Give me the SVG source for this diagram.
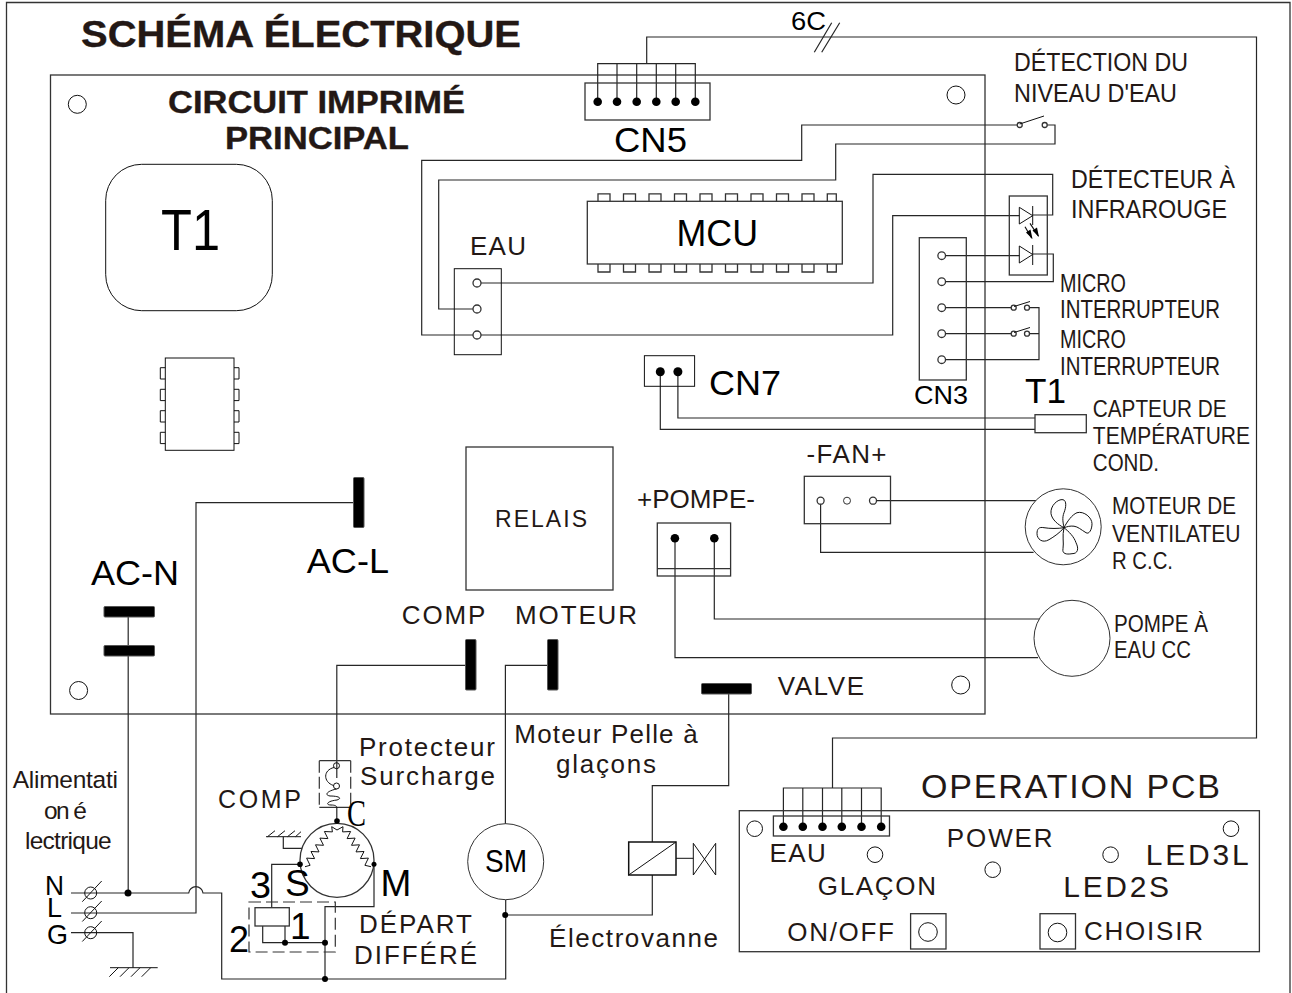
<svg xmlns="http://www.w3.org/2000/svg" width="1292" height="993" viewBox="0 0 1292 993">
<defs>
<style>
.l{fill:none;stroke:#262626;stroke-width:1.2;stroke-linejoin:miter}
.f{fill:#fff;stroke:#333;stroke-width:1.3}
.n{fill:none;stroke:#333;stroke-width:1.3}
.e{fill:none;stroke:#111;stroke-width:1}
.w{fill:none;stroke:#111;stroke-width:1;stroke-linejoin:round}
.d{fill:#000;stroke:none}
.term{fill:#000;stroke:#555;stroke-width:1}
.dash{fill:none;stroke:#333;stroke-width:1.2;stroke-dasharray:12 5}
text{font-family:"Liberation Sans",Arial,sans-serif;fill:#231815;font-size:26px}
.b{font-weight:bold;stroke:#231815;stroke-width:.35}
.k{fill:#000}
</style>
</defs>
<rect width="1292" height="993" fill="#fff"/>
<path class="n" d="M6.500 993V2.500H1290V993"/>

<g id="title">
<text class="b" x="81" y="47" style="font-size:37px" textLength="440" lengthAdjust="spacingAndGlyphs">SCHÉMA ÉLECTRIQUE</text>
</g>

<g id="main-pcb">
<rect class="n" x="50.500" y="75" width="934.500" height="639"/>
<text class="b" x="168" y="112.500" style="font-size:31px" textLength="297" lengthAdjust="spacingAndGlyphs">CIRCUIT IMPRIMÉ</text>
<text class="b" x="225" y="149" style="font-size:31px" textLength="184" lengthAdjust="spacingAndGlyphs">PRINCIPAL</text>
<circle class="e" cx="77.300" cy="104.300" r="9"/>
<circle class="e" cx="956" cy="95" r="9"/>
<circle class="e" cx="78.600" cy="690.500" r="9"/>
<circle class="e" cx="960.700" cy="685" r="9"/>
</g>

<g id="transformer">
<rect class="e" x="105.700" y="164.300" width="166.600" height="146.400" rx="36" ry="36"/>
<text class="k" x="161" y="250" style="font-size:57px" textLength="59" lengthAdjust="spacingAndGlyphs">T1</text>
</g>

<g id="dip-chip">
<rect class="e" x="165.300" y="358" width="68.700" height="92.300"/>
<path class="e" d="M165.300 367.700h-5v11.300h5M165.300 389.300h-5v11.300h5M165.300 410.700h-5v11.300h5M165.300 432.300h-5v11.300h5M234 367.700h5v11.300h-5M234 389.300h5v11.300h-5M234 410.700h5v11.300h-5M234 432.300h5v11.300h-5"/>
</g>

<g id="mcu">
<rect class="n" x="587.300" y="201.300" width="255" height="62.700"/>
<path class="n" d="M598 201.300v-7.500h12v7.500M623.500 201.300v-7.500h12v7.500M649 201.300v-7.500h12v7.500M674.500 201.300v-7.500h12v7.500M700 201.300v-7.500h12v7.500M725.500 201.300v-7.500h12v7.500M751 201.300v-7.500h12v7.500M776.500 201.300v-7.500h12v7.500M802 201.300v-7.500h12v7.500M827.300 201.300v-7.500h9v7.500M598 264v8h12v-8M623.500 264v8h12v-8M649 264v8h12v-8M674.500 264v8h12v-8M700 264v8h12v-8M725.500 264v8h12v-8M751 264v8h12v-8M776.500 264v8h12v-8M802 264v8h12v-8M827.300 264v8h9v-8"/>
<text class="k" x="676.500" y="246" style="font-size:36px" textLength="81.500" lengthAdjust="spacingAndGlyphs">MCU</text>
</g>

<g id="relais">
<rect class="n" x="466" y="447" width="147" height="143"/>
<text x="495" y="526.500" style="font-size:23px" textLength="92" lengthAdjust="spacing">RELAIS</text>
</g>

<g id="connectors">
<path class="l" d="M646.700 63.700V37H1256.500V738H832.500V788"/>
<path class="l" d="M597.700 101.700V63.700H695.300V101.700M617 63.700V101.700M636.700 63.700V101.700M656.300 63.700V101.700M675.700 63.700V101.700"/>
<path class="l" d="M783.400 826.700V788H881.200V826.700M802.800 788V826.700M822.500 788V826.700M841.800 788V826.700M861.500 788V826.700"/>
<path class="l" d="M477 335H421.700V160.300H801.700V125H1019.700"/>
<path class="l" d="M477 309H438.700V180H835.700V144H1055V125H1044.700"/>
<path class="l" d="M477 283H873V174.300H1052.700V215H1032.700"/>
<path class="l" d="M477 335H892.700V215.700H1019.300"/>
<path class="l" d="M941.700 255.700H1019.300M1032.700 254H1053.300V281.700H941.700"/>
<path class="l" d="M941.700 307.700H1013.700M941.700 333.700H1013.700M941.700 359.700H1039V307.700H1027M1039 333.700H1027"/>
<path class="l" d="M660.300 371.700V429.300H1035M677.900 371.700V418H1035"/>
<path class="l" d="M873 500.700H1038M820.600 500.700V552.300H1033.600"/>
<path class="l" d="M714.300 538.300V619H1040M675 538.300V657.700H1038"/>
<path class="l" d="M128.200 612V893"/>
<path class="l" d="M71 893H188.700A7.200 7.200 0 0 1 203 893H221.700V979H505.700V899.700M505.700 915H652.300V875M652.300 842V785.700H728.700V690"/>
<path class="l" d="M71 913H196V502.700H353"/>
<path class="l" d="M547.500 665.300H505.400V824"/>
<path class="l" d="M465.400 665.300H336.800V778M336.800 807V821"/>
<path class="l" d="M71 932.700H133V967.700"/>
<path class="l" d="M300 864.300H271.700V907.700M374 864.300V906.700H325V979"/>
<path class="l" d="M262.700 926V942.700H325M285 926V942.700"/>
<path class="l" d="M283.300 836.700V848.300H302"/>
<path class="l" d="M814.300 52.300L831.700 22.700M821.700 52.300L839.700 22.700"/>
<circle class="d" cx="128" cy="893" r="3.500"/>
<circle class="d" cx="285" cy="942.700" r="3"/>
<circle class="d" cx="325" cy="942.700" r="3"/>
<circle class="d" cx="325" cy="979" r="3"/>
<circle class="d" cx="505.200" cy="915" r="3"/>
</g>

<g id="cn5">
<rect class="n" x="585" y="83" width="125" height="37"/>
<circle class="d" cx="597.700" cy="101.700" r="4.300"/><circle class="d" cx="617" cy="101.700" r="4.300"/><circle class="d" cx="636.700" cy="101.700" r="4.300"/><circle class="d" cx="656.300" cy="101.700" r="4.300"/><circle class="d" cx="675.700" cy="101.700" r="4.300"/><circle class="d" cx="695.300" cy="101.700" r="4.300"/>
<text class="k" x="614" y="152" style="font-size:35px" textLength="73" lengthAdjust="spacingAndGlyphs">CN5</text>
</g>
<g id="label-6c"><text class="k" x="791" y="30" textLength="35" lengthAdjust="spacingAndGlyphs">6C</text></g>

<g id="eau">
<rect class="e" x="454.300" y="268.700" width="47" height="86"/>
<circle class="f" cx="477" cy="283" r="4"/><circle class="f" cx="477" cy="309" r="4"/><circle class="f" cx="477" cy="335" r="4"/>
<text x="470" y="255" textLength="56" lengthAdjust="spacing">EAU</text>
</g>

<g id="water-level-switch">
<circle class="f" cx="1019.700" cy="125" r="2.500"/><circle class="f" cx="1044.700" cy="125" r="2.500"/>
<path class="e" d="M1019.700 124L1044 116"/>
<text x="1014" y="71" style="font-size:25px" textLength="174" lengthAdjust="spacingAndGlyphs">DÉTECTION DU</text>
<text x="1014" y="102" style="font-size:25px" textLength="163" lengthAdjust="spacingAndGlyphs">NIVEAU D'EAU</text>
</g>

<g id="ir-detector">
<rect class="n" x="1009.300" y="196" width="38" height="79"/>
<path class="e" d="M1019.300 207.300V224L1032.700 215.700ZM1032.700 206V225M1019.300 246V263L1032.700 254.500ZM1032.700 245V265"/>
<path d="M1025 226.700L1031.700 238.300M1030 223.300L1038.300 236" stroke="#111" stroke-width="1.200" fill="none"/>
<path class="d" d="M1032.500 239l-6.500-6.500 4.500-3ZM1039 237l-6.500-6.500 4.500-3Z"/>
<text x="1071" y="188.300" style="font-size:25px" textLength="164" lengthAdjust="spacingAndGlyphs">DÉTECTEUR À</text>
<text x="1071" y="218.300" style="font-size:25px" textLength="156" lengthAdjust="spacingAndGlyphs">INFRAROUGE</text>
</g>

<g id="cn3">
<rect class="n" x="919.300" y="237.700" width="47" height="142.300"/>
<circle class="f" cx="941.700" cy="255.700" r="3.800"/><circle class="f" cx="941.700" cy="281.700" r="3.800"/><circle class="f" cx="941.700" cy="307.700" r="3.800"/><circle class="f" cx="941.700" cy="333.700" r="3.800"/><circle class="f" cx="941.700" cy="359.700" r="3.800"/>
<text class="k" x="914" y="404" textLength="54" lengthAdjust="spacingAndGlyphs">CN3</text>
</g>

<g id="micro-switches">
<circle class="f" cx="1013.700" cy="307.700" r="2.500"/><circle class="f" cx="1027" cy="307.700" r="2.500"/>
<circle class="f" cx="1013.700" cy="333.700" r="2.500"/><circle class="f" cx="1027" cy="333.700" r="2.500"/>
<path class="e" d="M1014 306.500L1030 301.500M1014 332.500L1030 327.500"/>
<text x="1060" y="291.700" style="font-size:25px" textLength="66" lengthAdjust="spacingAndGlyphs">MICRO</text>
<text x="1060" y="318.300" style="font-size:25px" textLength="160" lengthAdjust="spacingAndGlyphs">INTERRUPTEUR</text>
<text x="1060" y="348.300" style="font-size:25px" textLength="66" lengthAdjust="spacingAndGlyphs">MICRO</text>
<text x="1060" y="375.300" style="font-size:25px" textLength="160" lengthAdjust="spacingAndGlyphs">INTERRUPTEUR</text>
</g>

<g id="cn7">
<rect class="e" x="644.400" y="355.700" width="50.200" height="30.600"/>
<circle class="d" cx="660.300" cy="371.700" r="4.500"/><circle class="d" cx="677.900" cy="371.700" r="4.500"/>
<text class="k" x="709" y="395" style="font-size:35px" textLength="72" lengthAdjust="spacingAndGlyphs">CN7</text>
</g>

<g id="temp-sensor">
<rect class="n" x="1035" y="414.700" width="51.300" height="18"/>
<text class="k" x="1025" y="403.300" style="font-size:35px" textLength="41" lengthAdjust="spacingAndGlyphs">T1</text>
<text x="1092.800" y="416.700" style="font-size:23px" textLength="133.700" lengthAdjust="spacingAndGlyphs">CAPTEUR DE</text>
<text x="1092.800" y="444" style="font-size:23px" textLength="157.200" lengthAdjust="spacingAndGlyphs">TEMPÉRATURE</text>
<text x="1092.800" y="470.700" style="font-size:23px" textLength="66.200" lengthAdjust="spacingAndGlyphs">COND.</text>
</g>

<g id="fan-connector">
<rect class="n" x="804.300" y="476.300" width="86.200" height="47.400"/>
<circle class="f" cx="820.600" cy="500.700" r="3.500"/><circle class="f" cx="847" cy="500.700" r="3.500" style="stroke-width:1"/><circle class="f" cx="873" cy="500.700" r="3.500"/>
<text x="806.500" y="462.700" textLength="80" lengthAdjust="spacing">-FAN+</text>
</g>

<g id="fan-motor">
<circle class="f" cx="1063.200" cy="526.800" r="38" style="stroke-width:1"/>
<g transform="translate(1064 527.700)">
<path class="e" d="M0 0C-6-3-12-8-13-14C-14-22-6-29-1-28C3-27 2-20 0-15C-2-10-1-5 0 0Z"/>
<path class="e" d="M0 0C3-6 8-13 13-15C20-17 28-10 28-4C28 2 25 7 22 5C17 2 14-1 10-1.500C6-2 3-1 0 0Z"/>
<path class="e" d="M0 0C5 4 10 9 12 15C15 21 14 26 8 26C2 27-2 26-1 21C0 15-2 8 0 0Z"/>
<path class="e" d="M0 0C-4 5-10 9-15 12C-22 16-27 11-27 6C-27 1-25-1-20 0C-14 1-6 1 0 0Z"/>
</g>
<text x="1112" y="514.300" style="font-size:23px" textLength="124" lengthAdjust="spacingAndGlyphs">MOTEUR DE</text>
<text x="1112" y="541.700" style="font-size:23px" textLength="128.600" lengthAdjust="spacingAndGlyphs">VENTILATEU</text>
<text x="1112" y="568.700" style="font-size:23px" textLength="61" lengthAdjust="spacingAndGlyphs">R C.C.</text>
</g>

<g id="pompe-connector">
<rect class="n" x="657.300" y="523" width="73.300" height="53"/>
<path class="n" d="M657.300 568.700H730.600"/>
<circle class="d" cx="674.900" cy="538.300" r="4.300"/><circle class="d" cx="714.300" cy="538.300" r="4.300"/>
<text x="637" y="508.300" textLength="118" lengthAdjust="spacingAndGlyphs">+POMPE-</text>
</g>

<g id="pump-motor">
<circle class="f" cx="1072" cy="638.300" r="38" style="stroke-width:1"/>
<text x="1114" y="631.700" style="font-size:23px" textLength="94" lengthAdjust="spacingAndGlyphs">POMPE À</text>
<text x="1114" y="658.300" style="font-size:23px" textLength="77" lengthAdjust="spacingAndGlyphs">EAU CC</text>
</g>

<g id="ac-l">
<rect class="term" x="353.500" y="477.500" width="10.500" height="50" rx="1"/>
<text class="k" x="306.800" y="573.300" style="font-size:35px" textLength="82.200" lengthAdjust="spacingAndGlyphs">AC-L</text>
</g>
<g id="ac-n">
<rect class="term" x="104" y="606.500" width="50.500" height="10.500" rx="1"/>
<rect class="term" x="104" y="645.500" width="50.500" height="10.500" rx="1"/>
<text class="k" x="91" y="585" style="font-size:35px" textLength="88" lengthAdjust="spacingAndGlyphs">AC-N</text>
</g>
<g id="comp-terminal">
<rect class="term" x="465.500" y="639.500" width="10.500" height="50.500" rx="1"/>
<text x="401.800" y="623.700" textLength="83.600" lengthAdjust="spacing">COMP</text>
</g>
<g id="moteur-terminal">
<rect class="term" x="547.500" y="639.500" width="10.500" height="50.500" rx="1"/>
<text x="515" y="623.700" textLength="122" lengthAdjust="spacing">MOTEUR</text>
</g>
<g id="valve-terminal">
<rect class="term" x="701.500" y="683.500" width="50" height="10.500" rx="1"/>
<text x="777.700" y="695" textLength="86.300" lengthAdjust="spacing">VALVE</text>
</g>

<g id="power-supply">
<circle class="e" cx="90.700" cy="893" r="6"/><circle class="e" cx="90.700" cy="912.700" r="6"/><circle class="e" cx="90.700" cy="932.700" r="6"/>
<path class="e" d="M82.300 901.700L101.700 881M82.300 921.500L101.700 901M82.300 941.500L101.700 921"/>
<path class="e" d="M110 967.700H157.700M109.300 976.700L118.300 967.700M120 976.700L129 967.700M131 976.700L140 967.700M141.700 976.700L150.700 967.700"/>
<text x="12.700" y="788" style="font-size:24.500px" textLength="105.300" lengthAdjust="spacing">Alimentati</text>
<text x="44" y="819" style="font-size:24.500px" textLength="43" lengthAdjust="spacing">on é</text>
<text x="25" y="849" style="font-size:24.500px" textLength="86.700" lengthAdjust="spacing">lectrique</text>
<text class="k" x="45" y="895" style="font-size:28px" textLength="19" lengthAdjust="spacingAndGlyphs">N</text>
<text class="k" x="47" y="917" style="font-size:28px" textLength="15" lengthAdjust="spacingAndGlyphs">L</text>
<text class="k" x="47" y="944" style="font-size:28px" textLength="21" lengthAdjust="spacingAndGlyphs">G</text>
</g>

<g id="overload-protector">
<path class="n" d="M319.300 760.700H350.700M319.300 807.300H350.700"/>
<path class="dash" d="M319.300 760.700V807.300M350.700 760.700V807.300" style="stroke-dasharray:12 4"/>
<circle class="e" cx="336.500" cy="765.700" r="3"/><circle class="e" cx="336.500" cy="786" r="3"/>
<path class="e" d="M334 767.500C323 770 323 782 333.500 785.500"/>
<path class="e" d="M336.500 789C327 791 324 795 330 796C338 796 343 798 337 800C327 801 325 805 331 805C335 805 337 806 337 808"/>
<text x="359" y="756" textLength="136" lengthAdjust="spacing">Protecteur</text>
<text x="360" y="785" textLength="135" lengthAdjust="spacing">Surcharge</text>
</g>

<g id="compressor">
<circle class="n" cx="337" cy="860.300" r="37"/>
<path class="w" d="M337 830L331.700 826.700L332.400 831.900L324.400 831.500L327.900 838.600L319.900 838.100L323.500 845.300L315.500 844.800L319 851.900L311 851.500L314.600 858.600L306.600 858.100L310.100 865.300L305 866.700"/>
<path class="w" d="M337 830L343 826.700L342.600 831.900L350.600 831.500L347.100 838.600L355.100 838.100L351.500 845.300L359.500 844.800L356 851.900L364 851.500L360.400 858.600L368.400 858.100L364.900 865.300L371 866.700"/>
<path class="e" d="M266 836.700H301M267.500 836.700L275 830.700M277.500 836.700L285 830.700M287.500 836.700L295 830.700M295.500 836.700L301 831.700"/>
<circle class="d" cx="337" cy="821" r="2.800"/><circle class="d" cx="300" cy="864.300" r="2.800"/><circle class="d" cx="374" cy="864.300" r="2.500"/>
<text x="218" y="808" style="font-size:25px" textLength="83" lengthAdjust="spacing">COMP</text>
<text class="k" x="347" y="826" style="font-family:'Liberation Serif',serif;font-size:37px" textLength="19" lengthAdjust="spacingAndGlyphs">C</text>
<text class="k" x="285" y="896" style="font-size:37px">S</text>
<text class="k" x="380.500" y="896" style="font-size:37px">M</text>
</g>

<g id="delayed-start">
<rect class="dash" x="249" y="902" width="86.300" height="50"/>
<rect class="f" x="255" y="907.700" width="34.300" height="18.300"/>
<text class="k" x="250" y="897.700" style="font-size:37px" textLength="21" lengthAdjust="spacingAndGlyphs">3</text>
<text class="k" x="229" y="952" style="font-size:37px" textLength="20" lengthAdjust="spacingAndGlyphs">2</text>
<text class="k" x="290" y="939" style="font-size:37px">1</text>
<text x="359" y="933" textLength="113" lengthAdjust="spacing">DÉPART</text>
<text x="354" y="964" textLength="123" lengthAdjust="spacing">DIFFÉRÉ</text>
</g>

<g id="sm-motor">
<circle class="f" cx="505.700" cy="861.700" r="38" style="stroke-width:1"/>
<text class="k" x="485" y="872.300" style="font-size:31px" textLength="42" lengthAdjust="spacingAndGlyphs">SM</text>
<text x="514.300" y="743" textLength="183.400" lengthAdjust="spacing">Moteur Pelle à</text>
<text x="556" y="773" textLength="100" lengthAdjust="spacing">glaçons</text>
</g>

<g id="solenoid-valve">
<rect class="f" x="628.700" y="842" width="47.300" height="33" style="stroke:#111;stroke-width:1.500"/>
<path class="e" d="M628.700 875L676 842M676 858.300H693.300M693.300 843.300L715.700 875V843.300L693.300 875Z"/>
<text x="549" y="946.700" textLength="169" lengthAdjust="spacing">Électrovanne</text>
</g>

<g id="operation-pcb">
<rect class="n" x="739.300" y="810.700" width="520.100" height="141"/>
<text x="921" y="797.700" style="font-size:34px" textLength="299" lengthAdjust="spacing">OPERATION PCB</text>
<rect class="n" x="773.400" y="816" width="116.100" height="20"/>
<circle class="d" cx="783.400" cy="826.700" r="4.300"/><circle class="d" cx="802.800" cy="826.700" r="4.300"/><circle class="d" cx="822.500" cy="826.700" r="4.300"/><circle class="d" cx="841.800" cy="826.700" r="4.300"/><circle class="d" cx="861.500" cy="826.700" r="4.300"/><circle class="d" cx="881.200" cy="826.700" r="4.300"/>
<circle class="e" cx="754.700" cy="828.700" r="7.800"/>
<circle class="e" cx="875" cy="854.700" r="7.800"/>
<circle class="e" cx="992.700" cy="869.700" r="7.800"/>
<circle class="e" cx="1110.600" cy="854.700" r="7.800"/>
<circle class="e" cx="1231" cy="828.700" r="7.800"/>
<rect class="n" x="910.600" y="913.700" width="35.400" height="35.300"/>
<circle class="e" cx="928" cy="932" r="9.300"/>
<rect class="n" x="1040" y="913.700" width="35.500" height="35.300"/>
<circle class="e" cx="1057.500" cy="932.500" r="9.300"/>
<text x="769.400" y="861.700" textLength="56.300" lengthAdjust="spacing">EAU</text>
<text x="817.800" y="894.700" textLength="118.200" lengthAdjust="spacing">GLAÇON</text>
<text x="946.800" y="847.300" textLength="105.800" lengthAdjust="spacing">POWER</text>
<text x="1145.800" y="865" style="font-size:30px" textLength="102.800" lengthAdjust="spacing">LED3L</text>
<text x="1063.300" y="896.700" style="font-size:30px" textLength="105.700" lengthAdjust="spacing">LED2S</text>
<text x="787.300" y="940.700" textLength="106.700" lengthAdjust="spacing">ON/OFF</text>
<text x="1084" y="940" textLength="119" lengthAdjust="spacing">CHOISIR</text>
</g>
</svg>
